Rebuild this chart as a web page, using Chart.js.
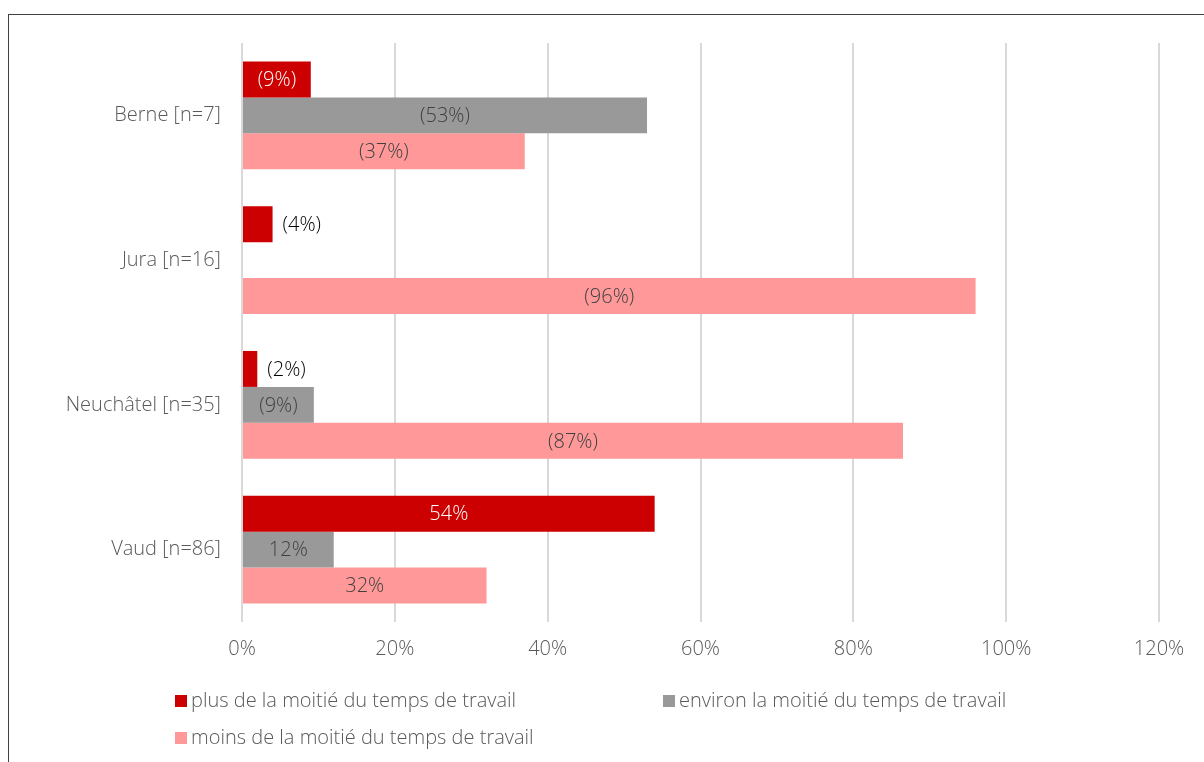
<!DOCTYPE html>
<html>
<head>
<meta charset="utf-8">
<script src="https://cdn.jsdelivr.net/npm/chart.js@4/dist/chart.umd.min.js"></script>
<style>
  body { margin: 0; background: #fff; overflow: hidden; }
  .wrap { position: relative; width: 1204px; height: 762px; font-family: "Open Sans", sans-serif; }
  .frame { position: absolute; left: 8px; top: 14px; width: 1300px; height: 900px; border-left: 1px solid #404040; border-top: 1px solid #404040; }
  canvas { position: absolute; left: 0; top: 0; }
  .legend-item { position: absolute; font-size: 20px; font-weight: 300; color: #595959; line-height: 22px; white-space: nowrap; }
  .legend-item span { display: inline-block; width: 12px; height: 12px; margin-right: 4px; vertical-align: 0px; }
</style>
</head>
<body>
<div class="wrap">
  <div class="frame"></div>
  <canvas id="chart" width="1204" height="762"></canvas>
  <div id="legend"></div>
</div>
<script>
const categories = ['Berne [n=7]', 'Jura [n=16]', 'Neuchâtel [n=35]', 'Vaud [n=86]'];
const seriesNames = [
  'plus de la moitié du temps de travail',
  'environ la moitié du temps de travail',
  'moins de la moitié du temps de travail',
];
const plusValues = [9, 4, 2, 54];
const environValues = [53, null, 9.4, 12];
const moinsValues = [37, 96, 86.5, 32];
const plusLabels = ['(9%)', '(4%)', '(2%)', '54%'];
const environLabels = ['(53%)', '', '(9%)', '12%'];
const moinsLabels = ['(37%)', '(96%)', '(87%)', '32%'];
const xTicks = [0, 20, 40, 60, 80, 100, 120];

const colors = ['#cc0000', '#999999', '#ff9999'];
const insideText = ['#ffffff', '#404040', '#404040'];
const font = '"Open Sans", sans-serif';

const barLabels = {
  id: 'barLabels',
  afterDatasetsDraw(chart) {
    const ctx = chart.ctx;
    ctx.save();
    ctx.font = `300 20px ${font}`;
    ctx.textBaseline = 'middle';
    chart.data.datasets.forEach((ds, i) => {
      chart.getDatasetMeta(i).data.forEach((bar, j) => {
        const text = ds.labels[j];
        if (!text || ds.data[j] == null) return;
        const w = ctx.measureText(text).width;
        const len = bar.x - bar.base;
        if (w + 8 < len) {
          ctx.textAlign = 'center';
          ctx.fillStyle = insideText[i];
          ctx.fillText(text, (bar.x + bar.base) / 2, bar.y + 1);
        } else {
          ctx.textAlign = 'left';
          ctx.fillStyle = '#000000';
          ctx.fillText(text, bar.x + 10, bar.y + 1);
        }
      });
    });
    ctx.restore();
  },
};

const chart = new Chart(document.getElementById('chart').getContext('2d'), {
  type: 'bar',
  data: {
    labels: categories,
    datasets: [
      { label: seriesNames[0], data: plusValues, labels: plusLabels, backgroundColor: colors[0] },
      { label: seriesNames[1], data: environValues, labels: environLabels, backgroundColor: colors[1] },
      { label: seriesNames[2], data: moinsValues, labels: moinsLabels, backgroundColor: colors[2] },
    ],
  },
  options: {
    indexAxis: 'y',
    responsive: false,
    animation: false,
    devicePixelRatio: 1,
    datasets: { bar: { categoryPercentage: 0.745, barPercentage: 1 } },
    layout: { padding: { top: 43, right: 45, bottom: 0, left: 0 } },
    plugins: { legend: { display: false }, tooltip: { enabled: false } },
    scales: {
      x: {
        min: 0,
        max: 120,
        afterFit: (scale) => { scale.height = 140; },
        afterBuildTicks: (scale) => { scale.ticks = xTicks.map((v) => ({ value: v })); },
        grid: { color: '#d9d9d9', lineWidth: 2, drawTicks: false },
        border: { display: false },
        ticks: {
          padding: 15,
          color: '#595959',
          font: { family: font, size: 20, weight: 300 },
          callback: (v) => v + '%',
        },
      },
      y: {
        afterFit: (scale) => { scale.width = 242; },
        grid: { display: false, drawTicks: false },
        border: { display: false },
        ticks: {
          padding: 21,
          color: '#595959',
          font: { family: font, size: 20, weight: 300 },
        },
      },
    },
  },
  plugins: [barLabels],
});

const legendPos = [[175, 689], [663, 689], [175, 726]];
document.getElementById('legend').innerHTML = seriesNames.map((name, i) => `
<div class="legend-item" style="left:${legendPos[i][0]}px;top:${legendPos[i][1]}px">
<span style="background:${colors[i]}"></span>${name}
</div>`).join('');
</script>
</body>
</html>
